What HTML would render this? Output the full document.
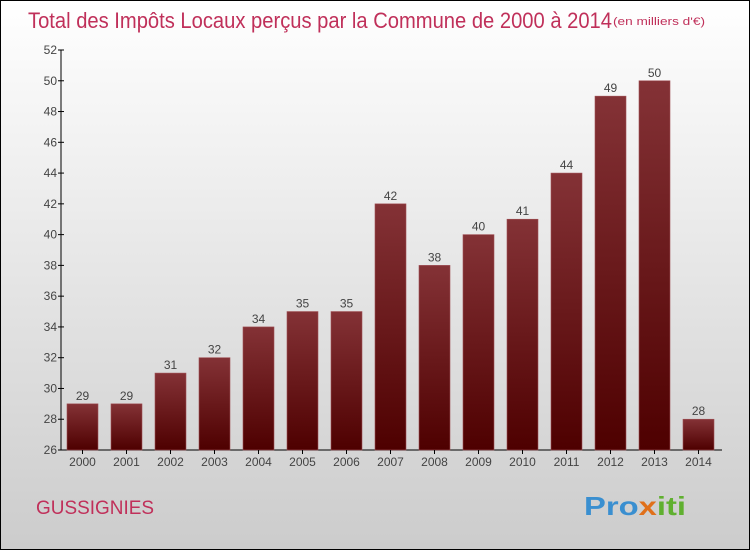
<!DOCTYPE html>
<html><head><meta charset="utf-8"><style>
body{margin:0;width:750px;height:550px;overflow:hidden}
svg{display:block;font-family:"Liberation Sans",sans-serif}
</style></head><body>
<svg width="750" height="550">
<defs>
<linearGradient id="bg" x1="0" y1="0" x2="0" y2="1"><stop offset="0" stop-color="#ffffff"/><stop offset="1" stop-color="#cccccc"/></linearGradient>
<linearGradient id="bar" x1="0" y1="0" x2="0" y2="1"><stop offset="0" stop-color="#843236"/><stop offset="1" stop-color="#4e0000"/></linearGradient>
</defs>
<rect x="0.5" y="0.5" width="749" height="549" fill="url(#bg)" stroke="#000"/>
<text x="28" y="28" font-size="22" fill="#c0305a" textLength="584" lengthAdjust="spacingAndGlyphs">Total des Impôts Locaux perçus par la Commune de 2000 à 2014</text>
<text x="613" y="25" font-size="11" fill="#c0305a" textLength="92" lengthAdjust="spacingAndGlyphs">(en milliers d'€)</text>
<g id="yaxis"></g>
<g id="bars"></g>
<text x="36" y="514" font-size="19" fill="#c0305a" textLength="118" lengthAdjust="spacingAndGlyphs">GUSSIGNIES</text>
<text x="584" y="515" font-size="26" font-weight="bold" textLength="102" lengthAdjust="spacingAndGlyphs"><tspan fill="#3a8fd0">Pro</tspan><tspan fill="#e0701a">x</tspan><tspan fill="#60b030">iti</tspan></text>
</svg>
<script>
const years=["2000","2001","2002","2003","2004","2005","2006","2007","2008","2009","2010","2011","2012","2013","2014"];
const values=[29,29,31,32,34,35,35,42,38,40,41,44,49,50,28];
const yTicks=[26,28,30,32,34,36,38,40,42,44,46,48,50,52];
const NS="http://www.w3.org/2000/svg";
const x0=61,yMin=26,yMax=52,plotTop=50,plotBot=450;
const sy=v=>plotBot-(v-yMin)*(plotBot-plotTop)/(yMax-yMin);
const xc=i=>82.5+i*44;
function mk(t,a,p,txt){const e=document.createElementNS(NS,t);for(const k in a)e.setAttribute(k,a[k]);if(txt!==undefined)e.textContent=txt;p.appendChild(e);return e;}
const ya=document.getElementById('yaxis'),bg=document.getElementById('bars');
years.forEach((yr,i)=>{
 const r=mk('rect',{x:xc(i)-15.5,y:sy(values[i]),width:31,height:plotBot-sy(values[i]),fill:'url(#bar)',stroke:'#a05055','stroke-width':0.6},bg);
 
 
 const l=mk('text',{x:xc(i),y:sy(values[i])-4,'font-size':12,'text-anchor':'middle',fill:'#444'},bg,values[i]);
 
 
 const tk=mk('line',{x1:xc(i),y1:plotBot,x2:xc(i),y2:plotBot+4,stroke:'#000'},bg);
 
 
 const xl=mk('text',{x:xc(i),y:plotBot+16,'font-size':12,'text-anchor':'middle',fill:'#444'},bg,yr);
 
 
});
const ax=mk('line',{x1:x0,y1:plotTop,x2:x0,y2:plotBot,stroke:'#000'},ya);


const xa=mk('line',{x1:x0,y1:plotBot,x2:722,y2:plotBot,stroke:'#000'},ya);


yTicks.forEach(v=>{
 const tk=mk('line',{x1:x0-3,y1:sy(v),x2:x0+3,y2:sy(v),stroke:'#000'},ya);
 
 
 const t=mk('text',{x:x0-4,y:sy(v)+4,'font-size':12,'text-anchor':'end',fill:'#444'},ya,v);
 
 
});
</script>
</body></html>
